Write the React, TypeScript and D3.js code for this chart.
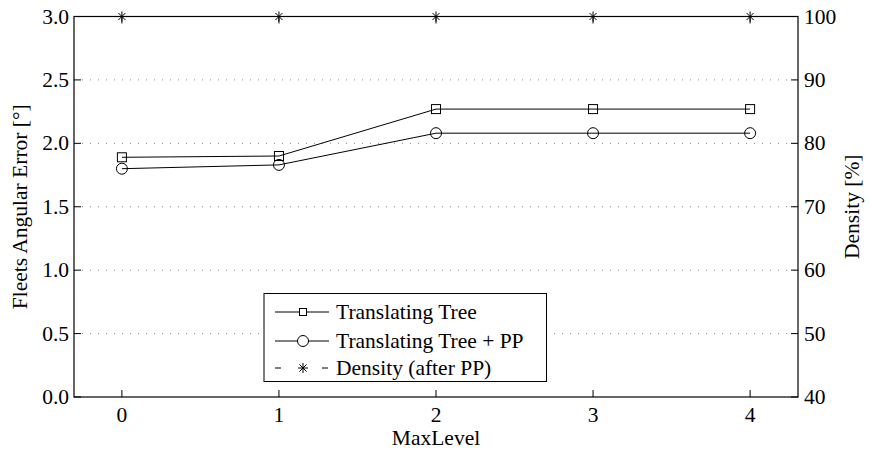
import React from 'react';
import * as d3 from 'd3';

const levels = [0, 1, 2, 3, 4];
const treeError = [1.89, 1.9, 2.27, 2.27, 2.27];
const treePPError = [1.8, 1.83, 2.08, 2.08, 2.08];
const density = [100, 100, 100, 100, 100];
const leftTicks = [0, 0.5, 1, 1.5, 2, 2.5, 3];
const rightTicks = [40, 50, 60, 70, 80, 90, 100];
const legendLabels = ['Translating Tree', 'Translating Tree + PP', 'Density (after PP)'];

const FS = 21.5;
const txt = { fontFamily: "'Liberation Serif'", fontSize: FS };

const App = () => {
  const width = 870;
  const height = 455;
  const margin = { top: 16.5, bottom: 58, left: 74, right: 72 };
  const x0 = margin.left;
  const x1 = width - margin.right;
  const y0 = margin.top;
  const y1 = height - margin.bottom;

  const x = d3.scaleLinear().domain([-0.305, 4.305]).range([x0, x1]);
  const yL = d3.scaleLinear().domain([0, 3]).range([y1, y0]);
  const yR = d3.scaleLinear().domain([40, 100]).range([y1, y0]);

  const lineL = d3.line<number>().x((d, i) => x(levels[i])).y(d => yL(d));
  const lineR = d3.line<number>().x((d, i) => x(levels[i])).y(d => yR(d));

  const tick = 7;
  const square = (cx, cy, k, s = 9) => (
    <rect key={k} x={cx - s / 2} y={cy - s / 2} width={s} height={s} fill="#fff" fillOpacity={0} stroke="#000" strokeWidth={1} />
  );
  const circle = (cx, cy, k) => (
    <circle key={k} cx={cx} cy={cy} r={5.5} fill="none" stroke="#000" strokeWidth={1} />
  );
  const star = (cx, cy, k) => {
    const r = 5;
    const paths = [0, 45, 90, 135].map(a => {
      const rad = (a * Math.PI) / 180;
      return `M${cx - r * Math.cos(rad)},${cy - r * Math.sin(rad)}L${cx + r * Math.cos(rad)},${cy + r * Math.sin(rad)}`;
    });
    return <path key={k} d={paths.join('')} stroke="#000" strokeWidth={1} fill="none" />;
  };

  const legend = { x: 264, y: 293.5, w: 282.5, h: 88 };
  const legendRows = [312, 341, 368];
  const mx = 303;
  const dy = 7;

  return (
    <svg width={width} height={height} style={{ position: 'absolute', left: 0, top: 0, background: '#fff' }}>
      <rect x={0} y={0} width={width} height={height} fill="#fff" />
      {/* grid */}
      {leftTicks.slice(1, -1).map(t => (
        <line key={`g-${t}`} x1={x0} x2={x1} y1={yL(t)} y2={yL(t)} stroke="#888" strokeWidth={1}
          strokeDasharray="1,7" />
      ))}
      {/* box */}
      <rect x={x0} y={y0} width={x1 - x0} height={y1 - y0} fill="none" stroke="#000" strokeWidth={1.2} />
      {/* x ticks */}
      {levels.map(l => (
        <g key={`xt-${l}`}>
          <line x1={x(l)} x2={x(l)} y1={y1} y2={y1 - tick} stroke="#000" />
          <line x1={x(l)} x2={x(l)} y1={y0} y2={y0 + tick} stroke="#000" />
          <text x={x(l)} y={422} textAnchor="middle" style={txt}>{l}</text>
        </g>
      ))}
      {/* left ticks */}
      {leftTicks.map(t => (
        <g key={`yl-${t}`}>
          <line x1={x0} x2={x0 + tick} y1={yL(t)} y2={yL(t)} stroke="#000" />
          <text x={69} y={yL(t) + dy} textAnchor="end" style={txt}>{t.toFixed(1)}</text>
        </g>
      ))}
      {/* right ticks */}
      {rightTicks.map(t => (
        <g key={`yr-${t}`}>
          <line x1={x1} x2={x1 - tick} y1={yR(t)} y2={yR(t)} stroke="#000" />
          <text x={804} y={yR(t) + dy} textAnchor="start" style={txt}>{t}</text>
        </g>
      ))}
      {/* axis labels */}
      <text transform={`translate(27,${(y0 + y1) / 2}) rotate(-90)`} textAnchor="middle" style={txt}>
        Fleets Angular Error [°]
      </text>
      <text transform={`translate(859,${(y0 + y1) / 2}) rotate(-90)`} textAnchor="middle" style={txt}>
        Density [%]
      </text>
      <text x={(x0 + x1) / 2} y={445} textAnchor="middle" style={txt}>MaxLevel</text>

      {/* series */}
      <path d={lineL(treeError) || ''} fill="none" stroke="#000" strokeWidth={1} />
      {treeError.map((v, i) => square(x(levels[i]), yL(v), `s-${i}`))}
      <path d={lineL(treePPError) || ''} fill="none" stroke="#000" strokeWidth={1} />
      {treePPError.map((v, i) => circle(x(levels[i]), yL(v), `c-${i}`))}
      <path d={lineR(density) || ''} fill="none" stroke="#000" strokeWidth={1} strokeDasharray="8,5" />
      {density.map((v, i) => star(x(levels[i]), yR(v), `st-${i}`))}

      {/* legend */}
      <rect x={legend.x} y={legend.y} width={legend.w} height={legend.h} fill="#fff" stroke="#000" strokeWidth={1} />
      {legendLabels.map((lab, i) => {
        const cy = legendRows[i];
        return (
          <g key={`lg-${i}`}>
            {i < 2 ? (
              <line x1={275} x2={329} y1={cy} y2={cy} stroke="#000" />
            ) : (
              <g>
                <line x1={275} x2={281} y1={cy} y2={cy} stroke="#000" />
                <line x1={322} x2={328} y1={cy} y2={cy} stroke="#000" />
              </g>
            )}
            {i === 0 && <rect x={mx - 3.5} y={cy - 3.5} width={7} height={7} fill="#fff" stroke="#000" />}
            {i === 1 && <circle cx={mx} cy={cy} r={5.5} fill="#fff" stroke="#000" />}
            {i === 2 && star(mx, cy, 'ls')}
            <text x={336} y={cy + dy} style={txt}>{lab}</text>
          </g>
        );
      })}
    </svg>
  );
};

export default App;
